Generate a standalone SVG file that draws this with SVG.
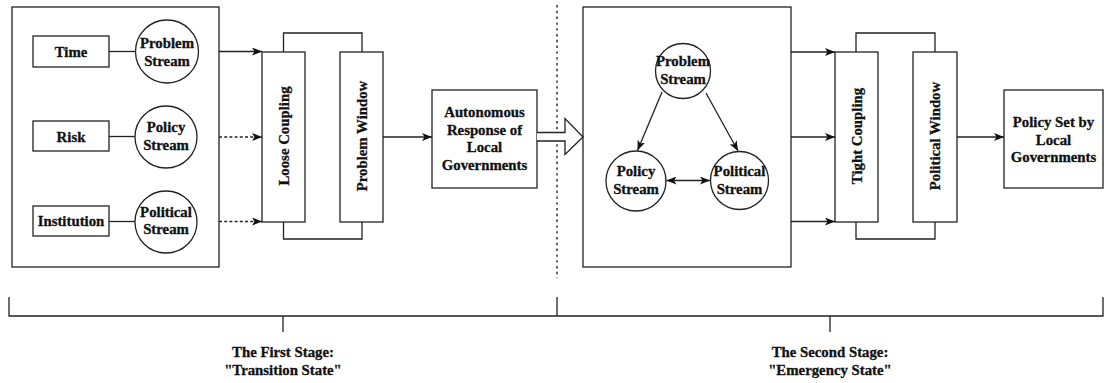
<svg xmlns="http://www.w3.org/2000/svg" width="1104" height="383" viewBox="0 0 1104 383">
  <style>
    .box { fill: #ffffff; stroke: #222222; stroke-width: 1.3; }
    .ln { fill: none; stroke: #222222; stroke-width: 1.3; }
    .dash { stroke-dasharray: 3 2.2; }
    .dot { stroke-dasharray: 2.4 3.4; stroke-width: 1.4; }
    .t { font-family: "Liberation Serif", "Times New Roman", "DejaVu Serif", serif; font-weight: bold; font-size: 14.8px; fill: #111111; stroke: #111111; stroke-width: 0.3px; text-anchor: middle; }
  </style>
  <defs>
    <marker id="arr" viewBox="0 0 10 8" refX="10" refY="4" markerWidth="10" markerHeight="8" markerUnits="userSpaceOnUse" orient="auto-start-reverse">
      <path d="M0,0 L10,4 L0,8 L2.5,4 Z" fill="#111111"/>
    </marker>
  </defs>

  <rect width="1104" height="383" fill="#ffffff"/>

  <!-- stage divider -->
  <line class="ln dot" x1="557" y1="5" x2="557" y2="278"/>

  <!-- first stage -->
  <g id="stage1-frame"><rect class="box" x="12" y="7" width="207" height="260"/></g>

  <g id="time"><rect class="box" x="33" y="36" width="76" height="31"/><text class="t" x="71" y="57">Time</text></g>
  <g id="risk"><rect class="box" x="33" y="121" width="76" height="30"/><text class="t" x="71" y="142">Risk</text></g>
  <g id="institution"><rect class="box" x="33" y="206" width="76" height="30"/><text class="t" x="71" y="226">Institution</text></g>

  <g id="problem-stream-1"><circle class="box" cx="167" cy="51.5" r="31.5"/><text class="t" x="167" y="47.5">Problem</text><text class="t" x="167" y="65.5">Stream</text></g>
  <g id="policy-stream-1"><circle class="box" cx="166" cy="137" r="31"/><text class="t" x="166" y="132">Policy</text><text class="t" x="166" y="150">Stream</text></g>
  <g id="political-stream-1"><circle class="box" cx="166" cy="222" r="31"/><text class="t" x="166" y="217">Political</text><text class="t" x="166" y="234">Stream</text></g>

  <g id="loose-coupling"><rect class="box" x="262" y="52" width="43" height="170"/><text class="t" transform="translate(289 136) rotate(-90)">Loose Coupling</text></g>
  <g id="problem-window"><rect class="box" x="340" y="52" width="43" height="170"/><text class="t" transform="translate(366.5 136) rotate(-90)">Problem Window</text></g>

  <g id="autonomous-response"><rect class="box" x="432" y="90" width="105" height="98"/>
    <text class="t" x="484.5" y="117">Autonomous</text>
    <text class="t" x="484.5" y="134.5">Response of</text>
    <text class="t" x="484.5" y="152">Local</text>
    <text class="t" x="484.5" y="170">Governments</text>
  </g>

  <!-- second stage -->
  <g id="stage2-frame"><rect class="box" x="583" y="7" width="208" height="260"/></g>

  <g id="problem-stream-2"><circle class="box" cx="683" cy="71" r="27.5"/><text class="t" x="683" y="65.5">Problem</text><text class="t" x="683" y="84">Stream</text></g>
  <g id="policy-stream-2"><circle class="box" cx="636" cy="181" r="30"/><text class="t" x="636" y="175.5">Policy</text><text class="t" x="636" y="193.5">Stream</text></g>
  <g id="political-stream-2"><circle class="box" cx="739.5" cy="180.5" r="29"/><text class="t" x="739.5" y="175.5">Political</text><text class="t" x="739.5" y="193.5">Stream</text></g>

  <g id="tight-coupling"><rect class="box" x="835" y="52" width="43" height="170"/><text class="t" transform="translate(862 136) rotate(-90)">Tight Coupling</text></g>
  <g id="political-window"><rect class="box" x="913" y="52" width="44" height="170"/><text class="t" transform="translate(940 136) rotate(-90)">Political Window</text></g>

  <g id="policy-set"><rect class="box" x="1004" y="90" width="99" height="98"/>
    <text class="t" x="1053.5" y="127">Policy Set by</text>
    <text class="t" x="1053.5" y="144.5">Local</text>
    <text class="t" x="1053.5" y="162">Governments</text>
  </g>

  <!-- stage labels -->
  <g id="stage1-label"><text class="t" x="283" y="357">The First Stage:</text><text class="t" x="283" y="375">"Transition State"</text></g>
  <g id="stage2-label"><text class="t" x="830" y="357">The Second Stage:</text><text class="t" x="830" y="375">"Emergency State"</text></g>

  <g id="connectors">
    <!-- factor to stream links -->
    <line class="ln" x1="109" y1="51.5" x2="135.5" y2="51.5"/>
    <line class="ln" x1="109" y1="136.5" x2="135" y2="136.5"/>
    <line class="ln" x1="109" y1="221.5" x2="135" y2="221.5"/>
    <!-- streams into loose coupling -->
    <line class="ln" x1="219" y1="51.5" x2="262" y2="51.5" marker-end="url(#arr)"/>
    <line class="ln dash" x1="219" y1="137" x2="262" y2="137" marker-end="url(#arr)"/>
    <line class="ln dash" x1="219" y1="221.5" x2="262" y2="221.5" marker-end="url(#arr)"/>
    <!-- coupling/window brackets -->
    <path class="ln" d="M283.5,52 V33 H362 V52"/>
    <path class="ln" d="M283.5,222 V239 H362 V222"/>
    <line class="ln" x1="383" y1="137" x2="432" y2="137" marker-end="url(#arr)"/>
    <!-- hollow transition arrow -->
    <path d="M537,132.5 H565 V118.5 L583,137 L565,154.5 V141 H537" fill="#ffffff" stroke="#222222" stroke-width="1.3"/>
    <!-- stream interactions -->
    <line class="ln" x1="662" y1="92" x2="637.5" y2="150.5" marker-end="url(#arr)"/>
    <line class="ln" x1="706" y1="93" x2="738" y2="151" marker-end="url(#arr)"/>
    <line class="ln" x1="666.5" y1="180.5" x2="710" y2="180.5" marker-start="url(#arr)" marker-end="url(#arr)"/>
    <!-- streams into tight coupling -->
    <line class="ln" x1="791" y1="52" x2="835" y2="52" marker-end="url(#arr)"/>
    <line class="ln" x1="791" y1="137" x2="835" y2="137" marker-end="url(#arr)"/>
    <line class="ln" x1="791" y1="221.5" x2="835" y2="221.5" marker-end="url(#arr)"/>
    <path class="ln" d="M856,52 V33 H935 V52"/>
    <path class="ln" d="M856,222 V239 H935 V222"/>
    <line class="ln" x1="957" y1="137" x2="1004" y2="137" marker-end="url(#arr)"/>
    <!-- stage brackets -->
    <path class="ln" d="M9,297 V316 H1103 V297"/>
    <line class="ln" x1="557" y1="297" x2="557" y2="316"/>
    <line class="ln" x1="283" y1="316" x2="283" y2="332"/>
    <line class="ln" x1="830" y1="316" x2="830" y2="332"/>
  </g>
</svg>
